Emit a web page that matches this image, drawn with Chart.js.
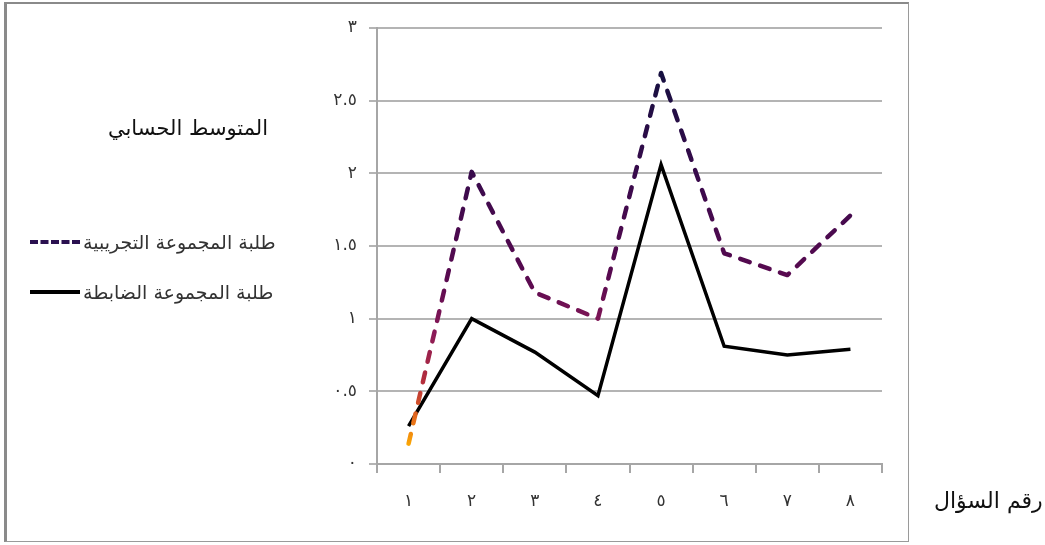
<!DOCTYPE html>
<html>
<head>
<meta charset="utf-8">
<script src="https://cdn.jsdelivr.net/npm/chart.js@4.4.1/dist/chart.umd.min.js"></script>
<style>
  html, body { margin: 0; padding: 0; background: #fff; }
  #wrap { position: relative; width: 1045px; height: 545px; font-family: 'DejaVu Sans', sans-serif; }
  #frame { position: absolute; left: 4px; top: 2px; width: 901px; height: 537px;
    border-top: 2px solid #8a8a8a; border-left: 3px solid #8a8a8a;
    border-right: 1px solid #9a9a9a; border-bottom: 1px solid #9a9a9a; }
  canvas { position: absolute; left: 0; top: 0; }
  .txt { position: absolute; color: #111; white-space: nowrap; }
  #yTitle { left: 108px; top: 116px; font-size: 21px; }
  #xTitle { left: 934px; top: 488px; font-size: 22px; }
  .leg { position: absolute; left: 30px; display: flex; align-items: center; font-size: 19px; color: #333; }
  .leg .s { width: 50px; height: 0; margin-right: 3px; }
  #leg1 { top: 231px; }
  #leg2 { top: 281px; }
  #leg1 .s { border-top: 4px dashed #2a1050; }
  #leg2 .s { border-top: 4px solid #000; }
</style>
</head>
<body>
<div id="wrap">
  <div id="frame"></div>
  <canvas id="c" width="1045" height="545"></canvas>
  <div class="txt" id="yTitle" dir="rtl">المتوسط الحسابي</div>
  <div class="txt" id="xTitle" dir="rtl">رقم السؤال</div>
  <div class="leg" id="leg1"><div class="s"></div><span dir="rtl">طلبة المجموعة التجريبية</span></div>
  <div class="leg" id="leg2"><div class="s"></div><span dir="rtl">طلبة المجموعة الضابطة</span></div>
</div>
<script>
const categories = ['١', '٢', '٣', '٤', '٥', '٦', '٧', '٨'];
const experimental = [0.14, 2.01, 1.18, 1.0, 2.69, 1.45, 1.3, 1.71];
const control = [0.26, 1.0, 0.77, 0.47, 2.06, 0.81, 0.75, 0.79];
const yTickLabels = ['٠', '٠.٥', '١', '١.٥', '٢', '٢.٥', '٣'];

function gradientColor(context) {
  const chart = context.chart;
  const area = chart.chartArea;
  if (!area) return '#2a1050';
  const y = chart.scales.y;
  const g = chart.ctx.createLinearGradient(0, y.getPixelForValue(0), 0, y.getPixelForValue(3));
  g.addColorStop(0.03, '#ffb400');
  g.addColorStop(0.1, '#e8701a');
  g.addColorStop(0.18, '#b8303a');
  g.addColorStop(0.3, '#8a1a58');
  g.addColorStop(0.42, '#5a0a50');
  g.addColorStop(0.65, '#3a0a4c');
  g.addColorStop(0.9, '#161040');
  return g;
}

new Chart(document.getElementById('c'), {
  type: 'line',
  data: {
    labels: categories,
    datasets: [
      {
        label: 'طلبة المجموعة التجريبية',
        data: experimental,
        borderColor: gradientColor,
        borderWidth: 4.5,
        borderDash: [10, 11],
        borderCapStyle: 'round',
        borderJoinStyle: 'round',
        pointRadius: 0,
        tension: 0
      },
      {
        label: 'طلبة المجموعة الضابطة',
        data: control,
        borderColor: '#000',
        borderWidth: 3.5,
        pointRadius: 0,
        tension: 0
      }
    ]
  },
  options: {
    responsive: false,
    animation: false,
    layout: { padding: { left: 320, right: 163, top: 28, bottom: 0 } },
    plugins: { legend: { display: false }, tooltip: { enabled: false } },
    scales: {
      x: {
        offset: true,
        afterFit: function(scale) { scale.height = 81; },
        grid: { drawOnChartArea: false, drawTicks: true, tickLength: 9, color: '#a6a6a6', lineWidth: 2, offset: true },
        border: { color: '#a6a6a6', width: 2 },
        ticks: { color: '#333', padding: 18, font: { family: 'DejaVu Sans', size: 17 } }
      },
      y: {
        min: 0,
        max: 3,
        afterFit: function(scale) { scale.width = 57; },
        grid: { color: '#b4b4b4', lineWidth: 2, tickLength: 8 },
        border: { color: '#a6a6a6', width: 2 },
        ticks: {
          stepSize: 0.5,
          color: '#333',
          padding: 12,
          font: { family: 'DejaVu Sans', size: 17 },
          callback: function(v) { return yTickLabels[Math.round(v / 0.5)]; }
        }
      }
    }
  }
});
</script>
</body>
</html>
